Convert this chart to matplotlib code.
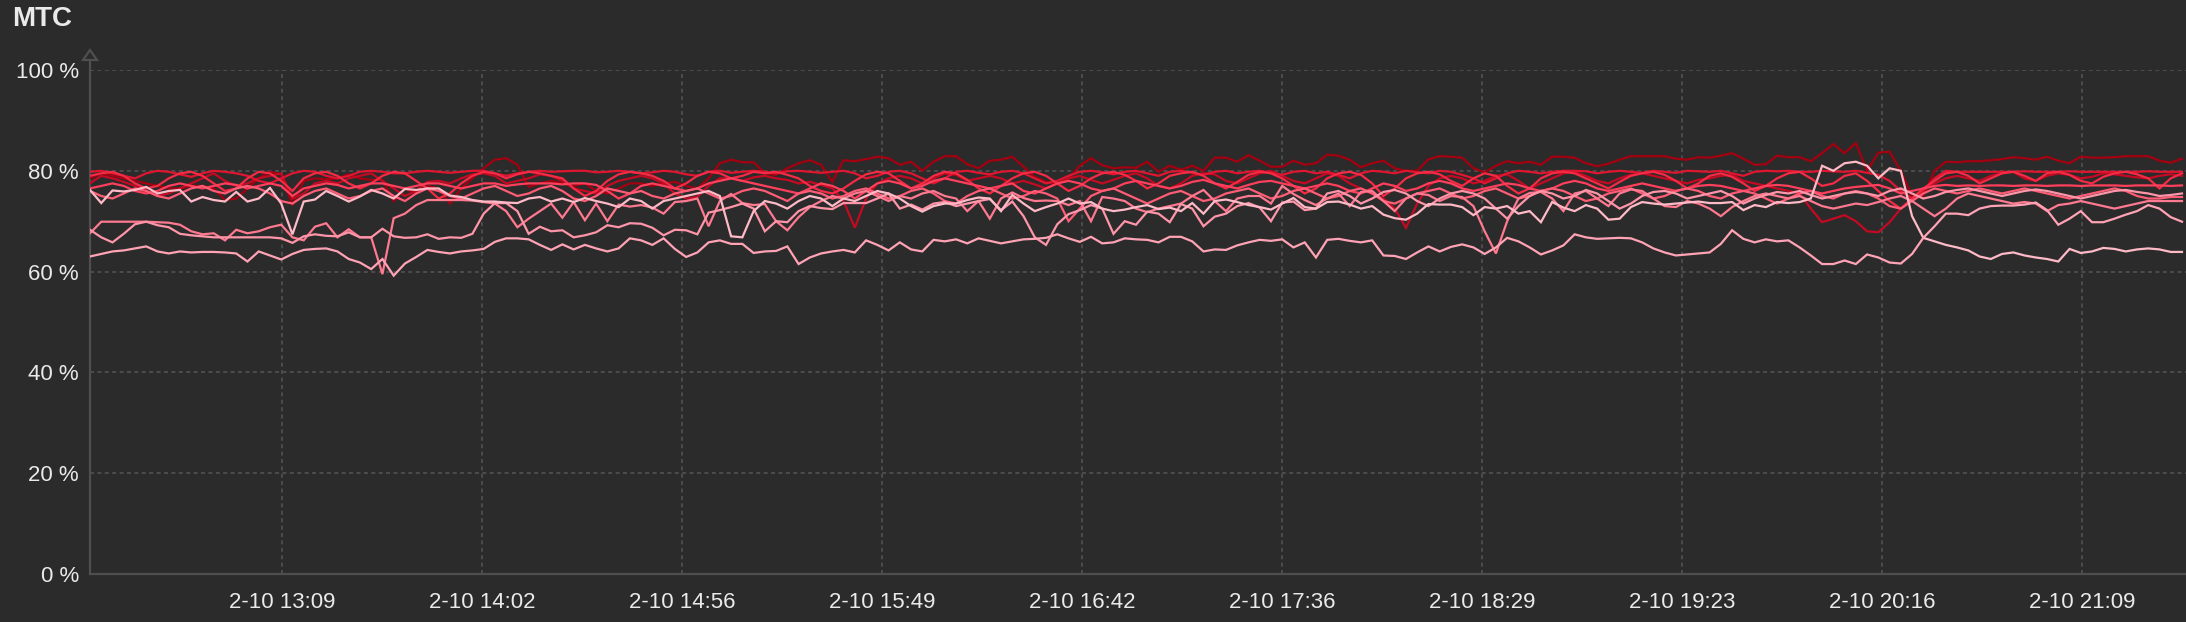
import pandas as pd
import matplotlib
matplotlib.use('Agg')
import matplotlib.pyplot as plt
from matplotlib.patches import Polygon
from matplotlib.lines import Line2D

plt.rcParams['font.family'] = ['Liberation Sans', 'DejaVu Sans']

# time axis: one sample every 3 minutes on 2-10
start = '2024-02-10 12:18'
step = '3min'
x_end = '2024-02-10 21:37:04'
tick_first = '2024-02-10 13:09:20'
tick_step = '53min20s'
tick_labels = ['2-10 13:09', '2-10 14:02', '2-10 14:56', '2-10 15:49', '2-10 16:42',
               '2-10 17:36', '2-10 18:29', '2-10 19:23', '2-10 20:16', '2-10 21:09']
y_ticks = [0, 20, 40, 60, 80, 100]
y_labels = ['0 %', '20 %', '40 %', '60 %', '80 %', '100 %']

# MTC values (%) per series
s1 = [78.5, 79.5, 79.0, 78.5, 78.0, 77.5, 77.0, 76.5, 76.5, 77.0,
      77.0, 76.5, 74.2, 74.5, 76.5, 78.5, 79.8, 79.3, 73.2, 78.0,
      78.5, 78.3, 78.5, 79.3, 78.5, 78.2, 78.2, 74.0, 76.5, 75.5,
      77.0, 76.5, 73.5, 76.5, 78.5, 80.5, 82.2, 82.5, 81.2, 76.8,
      77.5, 78.0, 77.5, 77.0, 77.5, 76.0, 75.5, 76.5, 77.5, 77.5,
      77.0, 77.5, 77.8, 77.0, 76.5, 78.5, 81.5, 82.2, 81.7, 81.7,
      79.5, 79.2, 80.5, 81.5, 82.1, 81.2, 77.8, 82.1, 81.9, 82.3,
      82.8, 82.5, 81.2, 81.8, 80.0, 81.8, 82.9, 82.9, 81.3, 80.5,
      82.0, 82.2, 82.8, 80.8, 78.8, 77.8, 77.3, 78.5, 81.0, 82.5,
      81.1, 80.5, 80.7, 80.6, 81.8, 79.8, 81.0, 80.2, 81.0, 80.0,
      82.6, 82.6, 81.8, 83.1, 82.0, 80.8, 80.8, 82.0, 81.2, 81.5,
      83.2, 83.0, 82.2, 80.7, 81.5, 82.0, 80.5, 80.0, 80.0, 82.3,
      82.9, 82.8, 82.6, 80.5, 79.7, 81.0, 81.9, 81.5, 81.8, 81.2,
      82.8, 82.8, 82.6, 81.5, 80.9, 81.4, 82.2, 82.9, 82.9, 82.9,
      82.9, 82.4, 82.2, 82.7, 82.6, 83.0, 83.5, 82.4, 81.2, 81.3,
      83.0, 82.7, 82.7, 81.9, 83.5, 85.3, 83.5, 85.5, 80.0, 83.6,
      83.8, 80.0, 75.0, 75.0, 80.0, 81.8, 81.7, 81.9, 81.9, 82.1,
      82.3, 82.7, 82.5, 82.2, 82.8, 82.0, 81.5, 82.8, 82.6, 82.6,
      82.7, 82.9, 82.9, 82.9, 82.0, 81.6, 82.4]
s2 = [77.5, 79.0, 78.5, 77.8, 77.0, 76.0, 75.0, 75.5, 76.5, 77.5,
      78.5, 79.5, 78.0, 77.0, 77.5, 78.5, 79.0, 79.5, 74.5, 75.5,
      77.5, 78.0, 77.5, 78.5, 79.0, 79.5, 78.0, 76.5, 75.0, 76.0,
      77.8, 78.0, 77.5, 78.5, 79.3, 79.5, 79.0, 77.5, 78.0, 78.5,
      79.3, 79.0, 78.0, 76.5, 76.0, 75.5, 77.0, 78.0, 78.5, 79.0,
      78.5, 77.5, 75.5, 74.5, 74.8, 77.0, 78.5, 78.5, 78.0, 78.7,
      79.0, 78.5, 78.2, 77.5, 77.8, 77.2, 76.5, 74.0, 68.7, 74.5,
      77.5, 78.5, 79.0, 78.5, 77.5, 78.5, 79.5, 79.2, 78.0, 78.5,
      79.0, 78.5, 77.5, 78.0, 77.3, 76.5, 77.5, 78.5, 79.0, 78.2,
      77.5, 78.2, 79.0, 79.5, 78.5, 77.0, 76.5, 77.5, 79.0, 79.5,
      79.3, 78.0, 77.5, 78.5, 79.5, 80.0, 79.0, 78.0, 77.5, 78.5,
      79.5, 79.0, 77.5, 76.5, 75.5, 74.5, 72.5, 68.7, 73.5, 77.0,
      78.5, 79.0, 78.5, 77.5, 78.0, 79.0, 79.3, 78.0, 76.5, 77.5,
      78.5, 79.5, 79.8, 79.0, 78.0, 77.5, 78.5, 79.2, 79.5, 79.0,
      78.5, 78.0, 77.5, 78.2, 78.5, 79.0, 79.2, 78.0, 77.5, 77.0,
      76.5, 76.0, 75.5, 72.5, 69.8, 70.5, 71.2, 70.0, 68.0, 67.8,
      69.8, 72.5, 74.5, 76.0, 77.5, 78.5, 79.0, 78.5, 78.0, 79.0,
      79.5, 79.8, 78.5, 78.0, 79.0, 79.5, 79.2, 78.5, 78.8, 79.5,
      79.3, 79.0, 78.7, 78.5, 79.0, 79.3, 79.0]
s3 = [79.8, 80.0, 79.5, 79.0, 78.5, 79.5, 80.0, 79.8, 79.3, 78.8,
      79.5, 80.0, 79.8, 79.5, 79.0, 78.0, 77.5, 78.5, 79.5, 80.0,
      79.8, 79.0, 78.5, 79.0, 79.8, 80.0, 79.8, 79.5, 79.5, 79.8,
      80.0, 79.8, 79.6, 79.8, 80.0, 80.0, 79.5, 79.0, 79.5, 79.8,
      80.0, 79.8, 79.9, 80.0, 80.0, 79.7, 79.8, 80.0, 79.8, 79.5,
      79.7, 80.0, 79.8, 79.3, 79.0, 79.8, 80.0, 79.6, 79.8, 80.0,
      79.8, 79.5, 79.9, 80.0, 79.8, 79.6, 79.8, 80.0, 79.5, 78.5,
      79.0, 79.8, 80.0, 79.5, 78.5, 77.5, 78.5, 79.8, 80.0, 79.6,
      79.3, 79.8, 80.0, 79.5, 78.5, 77.5, 78.0, 79.0, 79.8, 80.0,
      79.7, 79.3, 79.8, 80.0, 79.5, 79.0, 79.8, 80.0, 79.6, 79.2,
      79.8, 80.0, 79.5, 79.8, 80.0, 79.6, 79.2, 79.8, 80.0, 79.5,
      79.8, 79.2, 78.5, 79.5, 80.0, 79.8, 79.5, 80.0, 79.7, 79.5,
      80.0, 79.8, 79.2, 78.5, 77.5, 78.5, 79.5, 80.0, 79.8, 79.5,
      79.8, 80.0, 80.0, 79.9, 79.5, 79.8, 80.0, 79.8, 79.6, 80.0,
      79.8, 79.6, 80.0, 79.9, 79.8, 80.0, 79.5, 79.0, 79.8, 80.0,
      79.9, 80.0, 79.8, 79.8, 80.0, 79.9, 79.8, 80.0, 79.6, 79.2,
      78.0, 76.0, 74.5, 76.0, 78.5, 80.0, 79.8, 79.8, 79.8, 79.8,
      79.8, 79.8, 79.9, 79.8, 79.8, 79.8, 79.9, 79.8, 79.8, 79.8,
      79.8, 79.8, 79.8, 79.9, 79.8, 79.8, 79.8]
s4 = [79.0, 79.5, 79.8, 79.0, 77.5, 76.5, 77.0, 78.5, 79.5, 79.8,
      79.0, 77.5, 76.0, 76.5, 78.5, 79.8, 79.5, 78.0, 76.0, 78.5,
      79.5, 79.8, 79.0, 77.5, 76.5, 77.5, 79.0, 79.8, 79.5, 78.0,
      76.5, 74.5, 75.5, 77.5, 79.0, 79.8, 79.5, 78.5, 79.3, 79.8,
      79.5, 79.0, 78.5, 76.5, 75.0, 76.0, 78.0, 79.3, 79.8, 79.5,
      79.0, 78.0, 76.5, 77.5, 79.0, 79.8, 79.5, 78.5, 79.0, 79.8,
      79.5, 79.8, 79.2, 78.5, 77.0, 76.0, 75.5, 76.5, 78.0, 79.3,
      79.8, 79.5, 78.0, 76.5, 77.5, 79.0, 79.8, 79.5, 78.2, 76.5,
      75.5, 77.0, 78.5, 79.5, 79.8, 79.0, 77.5, 76.0, 77.0, 78.5,
      79.5, 79.8, 79.2, 78.0, 76.5, 77.5, 79.0, 79.5, 79.8, 79.0,
      77.5, 76.5, 77.8, 79.2, 79.8, 79.5, 78.5, 77.0, 75.5, 76.5,
      78.5, 79.5, 79.8, 79.2, 77.5, 75.0, 76.5, 78.5, 79.5, 79.8,
      79.3, 78.0, 77.0, 78.5, 79.5, 79.0, 77.0, 75.5, 76.5, 78.5,
      79.5, 79.8, 79.5, 78.5, 77.5, 76.5, 77.8, 79.0, 79.5, 79.8,
      79.2, 78.0, 76.5, 77.5, 79.0, 79.5, 78.8, 77.5, 76.0, 77.0,
      78.5, 79.5, 79.8, 78.5, 77.0, 77.5, 79.0, 79.5, 78.0, 76.0,
      74.0, 72.5, 74.5, 76.5, 78.0, 79.5, 79.8, 79.0, 77.5, 78.5,
      79.5, 79.8, 79.0, 78.0, 79.5, 79.8, 79.2, 78.0, 77.5, 78.8,
      79.5, 79.8, 79.3, 78.5, 76.5, 78.5, 79.5]
s5 = [76.5, 77.0, 77.5, 77.0, 76.0, 75.5, 76.0, 77.0, 77.5, 77.0,
      76.5, 77.0, 77.5, 77.2, 76.5, 77.0, 77.5, 77.0, 75.0, 76.5,
      77.0, 77.5, 77.2, 76.5, 77.0, 77.5, 77.5, 77.0, 76.5, 77.0,
      77.5, 77.5, 77.0, 76.5, 77.0, 77.5, 77.5, 77.0, 77.3, 77.5,
      77.5, 77.5, 77.3, 77.5, 77.5, 77.2, 76.0, 74.5, 75.5, 77.0,
      77.5, 77.0, 76.5, 76.0, 76.5, 77.5, 78.0, 78.5, 78.0, 77.5,
      77.0, 76.5, 76.0, 75.5, 76.5, 77.5, 77.0, 76.0, 74.5, 76.0,
      77.5, 78.0, 77.5, 76.5, 77.0, 78.0, 78.5, 78.0, 77.5, 77.0,
      76.5, 77.0, 77.5, 76.0, 75.5, 76.5, 77.5, 78.0, 77.5, 76.5,
      76.0, 76.5, 77.5, 78.0, 77.5, 77.0, 76.5, 77.0, 77.8, 78.2,
      77.5, 77.0, 76.5, 77.2, 77.8, 78.0, 77.5, 77.0, 76.5, 77.0,
      77.5, 77.0, 76.0, 75.5, 76.5, 77.5, 77.0, 76.0, 76.5, 77.5,
      78.0, 77.5, 76.5, 76.0, 76.5, 77.0, 77.5, 77.2, 76.5, 76.0,
      76.5, 77.5, 78.0, 77.5, 76.5, 76.0, 76.5, 77.0, 77.5, 77.0,
      76.5, 76.0, 76.5, 77.0, 77.2, 77.0, 76.5, 76.0, 76.5, 77.0,
      77.2, 77.0, 76.5, 76.0, 75.5, 76.0, 76.5, 76.8, 77.0, 77.2,
      76.5, 75.5, 76.0, 76.5, 77.0, 77.2, 77.0, 77.1, 77.0, 77.1,
      77.1, 77.0, 77.1, 77.1, 77.0, 77.1, 77.1, 77.0, 77.1, 77.1,
      77.1, 77.0, 77.1, 77.1, 77.1, 77.0, 77.1]
s6 = [76.0, 75.0, 74.5, 75.5, 76.5, 76.0, 75.0, 74.5, 75.5, 76.5,
      77.0, 76.0, 75.5, 76.5, 77.0, 76.5, 75.5, 74.0, 73.5, 75.0,
      76.0, 76.5, 75.5, 74.5, 75.0, 76.0, 76.5, 75.0, 74.0, 75.5,
      76.5, 76.0, 75.0, 74.5, 75.5, 76.5, 77.0, 76.0, 75.0, 75.5,
      76.5, 77.0, 76.0, 74.5, 74.0, 75.0, 76.5, 76.0, 75.5, 76.0,
      75.0, 74.5, 75.5, 76.0, 76.5, 75.5, 74.5, 75.0, 76.0, 76.5,
      76.0, 75.0, 74.0, 75.5, 76.0, 75.5, 74.5, 75.0, 76.0, 76.5,
      75.5, 74.5, 75.0, 76.0, 76.5, 75.5, 74.0, 73.5, 75.0, 76.0,
      76.5, 75.5, 74.5, 75.0, 76.0, 75.5, 74.5, 70.0, 72.5, 75.0,
      76.0, 76.5, 75.5, 74.5, 73.5, 74.5, 75.5, 76.0, 75.0, 74.0,
      74.5, 75.5, 76.0, 76.5, 75.5, 74.5, 75.0, 76.0, 76.5, 75.5,
      74.5, 75.0, 76.0, 76.5, 75.5, 74.0, 73.5, 74.5, 75.5, 76.0,
      76.5, 75.5, 74.5, 75.0, 76.0, 76.5, 75.5, 74.5, 75.0, 76.0,
      76.5, 76.0, 75.0, 74.0, 74.5, 75.5, 76.0, 76.5, 75.5, 74.5,
      75.0, 76.0, 76.5, 76.0, 75.0, 74.5, 75.5, 76.0, 75.5, 74.5,
      73.5, 74.5, 75.5, 76.0, 75.0, 74.5, 75.5, 76.0, 75.5, 74.5,
      73.0, 72.5, 74.0, 75.5, 76.5, 76.0, 75.5, 76.0, 76.5, 76.0,
      75.5, 76.0, 76.5, 76.0, 75.5, 75.0, 74.5, 75.0, 75.5, 76.0,
      76.5, 76.0, 75.0, 74.5, 74.5, 74.8, 74.8]
s7 = [67.6, 69.9, 69.9, 69.9, 69.9, 69.9, 69.8, 69.7, 69.3, 68.0,
      67.4, 67.6, 66.2, 68.3, 67.6, 68.0, 68.8, 69.3, 66.8, 66.2,
      68.9, 69.6, 66.8, 68.4, 66.8, 66.8, 59.5, 70.6, 71.5, 73.2,
      74.2, 74.2, 74.2, 74.2, 74.1, 73.8, 73.5, 72.0, 68.8, 70.5,
      72.0, 73.5, 70.7, 73.8, 70.2, 73.5, 70.0, 73.3, 72.9, 73.2,
      72.7, 71.5, 73.8, 74.0, 74.5, 69.0, 74.0, 75.4, 73.6, 73.2,
      73.4, 70.0, 68.2, 70.8, 72.8, 74.0, 75.0, 74.5, 75.5, 76.0,
      75.0, 74.0, 75.0, 74.5, 75.5, 76.0, 75.0, 74.5, 72.0, 74.0,
      70.5, 74.5, 75.7, 74.6, 74.0, 74.1, 74.0, 73.2, 74.0, 70.0,
      74.8, 74.5, 74.0, 72.5, 71.8, 72.5, 73.0, 73.5, 75.0, 76.2,
      74.0, 72.0, 74.5, 75.0, 75.0, 73.5, 77.0, 75.4, 74.2, 73.2,
      74.5, 75.5, 73.0, 75.8, 76.0, 74.0, 72.0, 74.5, 75.5, 75.2,
      74.0, 75.0, 74.8, 73.0, 68.0, 63.6, 70.0, 74.5, 75.6, 75.8,
      74.5, 72.0, 75.5, 76.0, 74.5, 73.0, 75.5, 76.3, 76.0, 74.5,
      73.0, 72.8, 74.0, 73.5, 72.5, 71.0, 72.8, 74.0, 75.0, 75.5,
      75.0, 74.5, 75.0, 74.0, 73.0, 72.5, 73.0, 73.5, 73.2, 73.8,
      74.5, 75.0, 74.0, 72.5, 71.0, 72.5, 74.5, 75.5, 75.0, 74.5,
      74.0, 73.5, 73.8, 73.5, 72.0, 73.2, 73.5, 74.0, 73.5, 73.0,
      72.5, 73.0, 73.5, 74.0, 74.0, 74.0, 74.0]
s8 = [68.3, 66.8, 65.8, 67.5, 69.4, 69.9, 69.2, 68.8, 67.5, 67.2,
      67.0, 66.8, 66.8, 66.8, 66.8, 66.8, 66.8, 66.6, 65.7, 67.0,
      67.4, 67.1, 67.0, 67.8, 66.8, 66.8, 68.5, 67.0, 66.7, 66.8,
      67.4, 66.5, 66.8, 66.7, 67.5, 71.5, 73.6, 73.6, 72.0, 67.5,
      68.9, 68.0, 68.2, 66.8, 67.2, 67.8, 69.2, 68.8, 69.6, 69.5,
      68.7, 67.2, 68.3, 68.2, 67.4, 71.7, 72.2, 72.8, 73.5, 72.5,
      68.0, 70.0, 69.8, 72.0, 73.0, 72.6, 72.4, 73.6, 73.6, 73.6,
      74.5, 75.5, 72.5, 73.3, 72.3, 73.5, 73.8, 73.0, 73.5, 74.0,
      74.4, 72.2, 73.9, 71.0, 66.8, 65.3, 69.4, 71.4, 72.2, 73.2,
      72.5, 67.5, 70.0, 69.3, 71.9, 71.5, 69.8, 73.4, 72.5, 69.0,
      70.9, 71.5, 73.0, 73.6, 72.7, 70.0, 73.7, 73.9, 72.2, 72.5,
      75.5, 76.0, 75.0, 73.5, 74.5, 75.8, 76.2, 75.5, 74.0, 73.0,
      74.5, 75.5, 76.0, 75.5, 74.5, 72.5, 70.5, 73.0, 75.0, 76.0,
      75.5, 74.5, 75.0, 76.2, 75.5, 74.0, 72.5, 73.5, 75.0, 75.8,
      76.0, 75.5, 74.5, 75.0, 75.5, 76.0, 75.0, 73.5, 74.5, 75.2,
      75.8, 75.5, 76.0, 75.2, 74.5, 75.0, 75.5, 75.8, 75.5, 75.0,
      76.0, 76.5, 75.5, 74.5, 75.0, 75.8, 76.2, 76.5, 76.0, 75.5,
      75.0, 75.5, 76.0, 76.3, 76.0, 75.5, 75.0, 74.5, 75.0, 75.5,
      76.0, 76.2, 75.8, 75.5, 75.0, 75.2, 75.5]
s9 = [76.2, 73.6, 76.1, 75.9, 76.2, 76.8, 75.5, 76.0, 76.2, 73.9,
      74.8, 74.2, 73.9, 75.8, 73.9, 74.5, 76.6, 73.5, 67.4, 73.9,
      74.3, 76.0, 75.0, 73.9, 74.9, 76.2, 75.5, 74.5, 76.4, 76.2,
      76.5, 76.5, 75.1, 74.8, 74.2, 73.9, 73.9, 73.7, 73.6, 74.5,
      74.8, 73.9, 74.5, 73.8, 74.6, 74.0, 73.5, 72.8, 74.5, 74.0,
      72.5, 74.0, 74.5, 75.0, 75.5, 76.0, 75.0, 67.0, 66.8, 72.0,
      74.0, 73.5, 72.5, 74.0, 75.0, 74.5, 73.0, 74.5, 74.0, 75.0,
      76.0, 75.5, 74.5, 73.0, 71.9, 73.0, 73.5, 73.5, 74.2, 74.7,
      74.5, 72.0, 75.2, 73.5, 72.0, 72.8, 73.5, 74.5, 73.5, 73.8,
      72.5, 72.0, 72.3, 72.8, 73.2, 72.4, 72.7, 72.0, 73.6, 71.5,
      74.0, 74.3, 73.8, 73.2, 72.8, 72.3, 73.5, 74.6, 72.8, 72.5,
      73.8, 73.9, 73.3, 72.5, 73.0, 71.3, 70.6, 70.3, 71.5, 73.4,
      73.3, 73.3, 72.8, 71.2, 72.8, 72.5, 73.0, 71.5, 72.0, 69.8,
      73.8, 72.7, 72.0, 73.2, 72.5, 70.3, 70.5, 72.8, 73.8, 73.5,
      73.3, 73.5, 73.7, 73.9, 73.6, 73.6, 73.8, 72.2, 73.2, 72.8,
      73.8, 73.6, 73.8, 74.5, 81.0, 80.0, 81.5, 81.8, 81.0, 78.5,
      80.5, 80.0, 71.0, 66.7, 66.0, 65.3, 64.8, 64.2, 63.0, 62.5,
      63.5, 63.8, 63.2, 62.8, 62.5, 62.0, 64.5, 63.7, 64.0, 64.7,
      64.5, 64.0, 64.4, 64.6, 64.4, 63.9, 63.9]
s10 = [63.0, 63.5, 64.0, 64.2, 64.6, 65.0, 64.0, 63.6, 64.0, 63.8,
       63.9, 63.9, 63.8, 63.6, 62.0, 64.0, 63.2, 62.4, 63.5, 64.3,
       64.5, 64.6, 64.0, 62.5, 61.8, 60.5, 62.5, 59.2, 61.6, 62.9,
       64.3, 63.9, 63.6, 64.0, 64.2, 64.5, 65.9, 66.6, 66.6, 66.4,
       65.3, 64.3, 65.4, 64.4, 65.3, 64.6, 64.0, 64.6, 66.6, 66.2,
       65.3, 66.6, 64.5, 62.9, 63.8, 65.8, 66.2, 65.5, 65.5, 63.7,
       64.0, 64.1, 65.0, 61.5, 62.8, 63.6, 64.0, 64.3, 63.8, 66.2,
       65.3, 64.2, 65.8, 64.4, 64.0, 66.3, 66.0, 66.4, 65.6, 66.6,
       66.1, 65.6, 66.0, 66.4, 66.5, 66.7, 67.4, 66.6, 65.9, 66.9,
       65.6, 65.8, 66.6, 66.4, 66.3, 65.8, 66.9, 66.9, 66.0, 64.0,
       64.4, 64.3, 65.2, 65.8, 66.3, 66.1, 66.4, 64.8, 65.8, 62.8,
       66.3, 66.5, 66.1, 65.8, 66.2, 63.2, 63.1, 62.5, 63.8, 65.0,
       64.0, 64.9, 65.4, 64.8, 63.5, 64.8, 66.7, 66.0, 64.8, 63.4,
       64.2, 65.2, 67.4, 66.8, 66.5, 66.6, 66.7, 66.6, 65.8, 64.6,
       63.8, 63.2, 63.4, 63.6, 63.8, 65.5, 68.2, 66.5, 65.8, 66.4,
       66.0, 66.2, 64.8, 63.2, 61.5, 61.5, 62.2, 61.5, 63.4, 62.8,
       61.8, 61.6, 63.5, 66.7, 69.0, 71.5, 71.5, 71.2, 72.5, 73.0,
       73.1, 73.1, 73.3, 73.7, 72.2, 69.3, 70.5, 72.0, 69.8, 69.8,
       70.5, 71.3, 72.0, 73.2, 72.5, 70.8, 69.9]

series = [s1, s2, s3, s4, s5, s6, s7, s8, s9, s10]
colors = ['#a50010', '#c40a22', '#e01530', '#f52a45', '#ff3f5c',
          '#ff5c76', '#ff7990', '#ff95a8', '#ffbac7', '#ffa3b5']

bg = '#2b2b2b'
axis_col = '#4f4f4f'
text_col = '#eaeaea'

times = pd.date_range(start, periods=len(s1), freq=step)
ticks = [pd.Timestamp(tick_first) + k * pd.Timedelta(tick_step) for k in range(len(tick_labels))]

fig = plt.figure(figsize=(21.86, 6.22), dpi=100, facecolor=bg)
ax = fig.add_axes([90 / 2186, 48 / 622, 2096 / 2186, 504 / 622])
ax.set_facecolor(bg)

for vals, c in zip(series, colors):
    ax.plot(times, vals, color=c, lw=1.6, solid_joinstyle='miter', zorder=3)

ax.set_xlim(times[0], pd.Timestamp(x_end))
ax.set_ylim(0, 100)
ax.set_xticks(ticks)
ax.set_xticklabels(tick_labels)
ax.set_yticks(y_ticks)
ax.set_yticklabels(y_labels)
ax.tick_params(axis='both', length=0, colors=text_col, labelsize=16)
ax.tick_params(axis='x', pad=13)
ax.tick_params(axis='y', pad=8)

ax.grid(True, color=axis_col, lw=1.3, linestyle=(0, (2.2, 1.9)), zorder=1)
for sp in ['top', 'right']:
    ax.spines[sp].set_visible(False)
for sp in ['left', 'bottom']:
    ax.spines[sp].set_color(axis_col)
    ax.spines[sp].set_linewidth(1.6)

# y axis arrow above the 100 % line
fig.add_artist(Line2D([90 / 2186, 90 / 2186], [1 - 70 / 622, 1 - 60 / 622],
                      color=axis_col, lw=1.6, transform=fig.transFigure))
fig.add_artist(Polygon([[83 / 2186, 1 - 60 / 622], [97 / 2186, 1 - 60 / 622],
                        [90 / 2186, 1 - 50 / 622]], closed=True, fill=False,
                       edgecolor=axis_col, lw=1.6, transform=fig.transFigure))

fig.text(12 / 2186, 1 - 19 / 622, 'MTC', color=text_col, fontsize=20,
         fontweight='bold', va='center', ha='left')

fig.savefig('out.png', dpi=100, facecolor=bg)
